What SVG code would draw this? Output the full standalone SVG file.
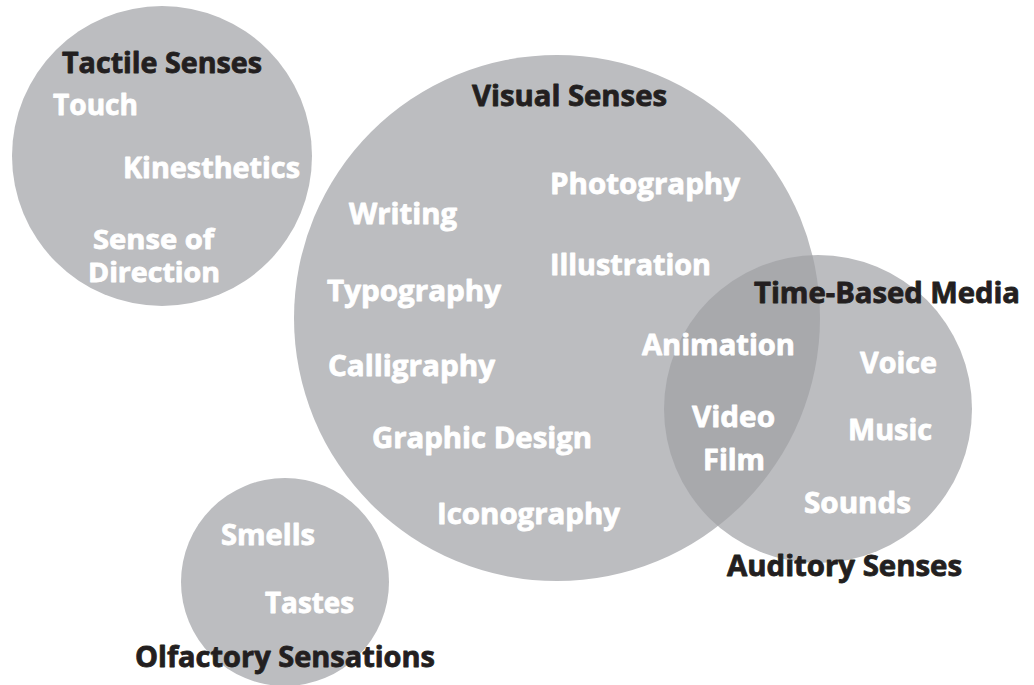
<svg xmlns="http://www.w3.org/2000/svg" width="1034" height="685" viewBox="0 0 1034 685">
<style>
.c{fill:#bcbdc0}
.ov{fill:#a8a9ac}
text{font-family:"Open Sans","Noto Sans","DejaVu Sans",sans-serif;font-weight:700;font-size:28px;stroke-width:0.8px;stroke-linejoin:round}
.w{fill:#ffffff;stroke:#ffffff}
.k{fill:#231f20;stroke:#231f20}
.s{font-size:26px}
</style>
<defs>
<clipPath id="audClip"><circle cx="818" cy="409" r="154"/></clipPath>
</defs>
<rect width="1034" height="685" fill="#ffffff"/>
<g id="tactile">
<circle class="c" cx="162" cy="156" r="150"/>
<text class="k" x="62" y="73" textLength="200" lengthAdjust="spacingAndGlyphs">Tactile Senses</text>
<text class="w" x="53" y="115" textLength="85" lengthAdjust="spacingAndGlyphs">Touch</text>
<text class="w" x="123" y="178" textLength="177" lengthAdjust="spacingAndGlyphs">Kinesthetics</text>
<text class="w s" x="93" y="249" textLength="121" lengthAdjust="spacingAndGlyphs">Sense of</text>
<text class="w s" x="88" y="282" textLength="132" lengthAdjust="spacingAndGlyphs">Direction</text>
</g>
<g id="visual">
<circle class="c" cx="557" cy="318" r="263"/>
</g>
<g id="auditory">
<circle class="c" cx="818" cy="409" r="154"/>
</g>
<g id="overlap">
<circle class="ov" cx="557" cy="318" r="263" clip-path="url(#audClip)"/>
</g>
<g id="olfactory">
<circle class="c" cx="285" cy="582" r="104"/>
<text class="w" x="221" y="545" textLength="94" lengthAdjust="spacingAndGlyphs">Smells</text>
<text class="w" x="265" y="613" textLength="89" lengthAdjust="spacingAndGlyphs">Tastes</text>
<text class="k" x="135" y="667" textLength="300" lengthAdjust="spacingAndGlyphs">Olfactory Sensations</text>
</g>
<g id="visual-labels">
<text class="k" x="472" y="106" textLength="195" lengthAdjust="spacingAndGlyphs">Visual Senses</text>
<text class="w" x="550" y="194" textLength="190" lengthAdjust="spacingAndGlyphs">Photography</text>
<text class="w" x="349" y="224" textLength="108" lengthAdjust="spacingAndGlyphs">Writing</text>
<text class="w" x="550" y="275" textLength="161" lengthAdjust="spacingAndGlyphs">Illustration</text>
<text class="w" x="327" y="301" textLength="174" lengthAdjust="spacingAndGlyphs">Typography</text>
<text class="w" x="328" y="376" textLength="167" lengthAdjust="spacingAndGlyphs">Calligraphy</text>
<text class="w" x="372" y="448" textLength="220" lengthAdjust="spacingAndGlyphs">Graphic Design</text>
<text class="w" x="437" y="524" textLength="183" lengthAdjust="spacingAndGlyphs">Iconography</text>
</g>
<g id="time-based-labels">
<text class="k" x="754" y="303" textLength="266" lengthAdjust="spacingAndGlyphs">Time-Based Media</text>
<text class="w" x="642" y="355" textLength="153" lengthAdjust="spacingAndGlyphs">Animation</text>
<text class="w" x="692" y="427" textLength="83" lengthAdjust="spacingAndGlyphs">Video</text>
<text class="w" x="703" y="470" textLength="62" lengthAdjust="spacingAndGlyphs">Film</text>
</g>
<g id="auditory-labels">
<text class="w" x="860" y="373" textLength="77" lengthAdjust="spacingAndGlyphs">Voice</text>
<text class="w" x="848" y="440" textLength="84" lengthAdjust="spacingAndGlyphs">Music</text>
<text class="w" x="804" y="513" textLength="107" lengthAdjust="spacingAndGlyphs">Sounds</text>
<text class="k" x="727" y="576" textLength="235" lengthAdjust="spacingAndGlyphs">Auditory Senses</text>
</g>
<g id="connectors"></g>
</svg>
